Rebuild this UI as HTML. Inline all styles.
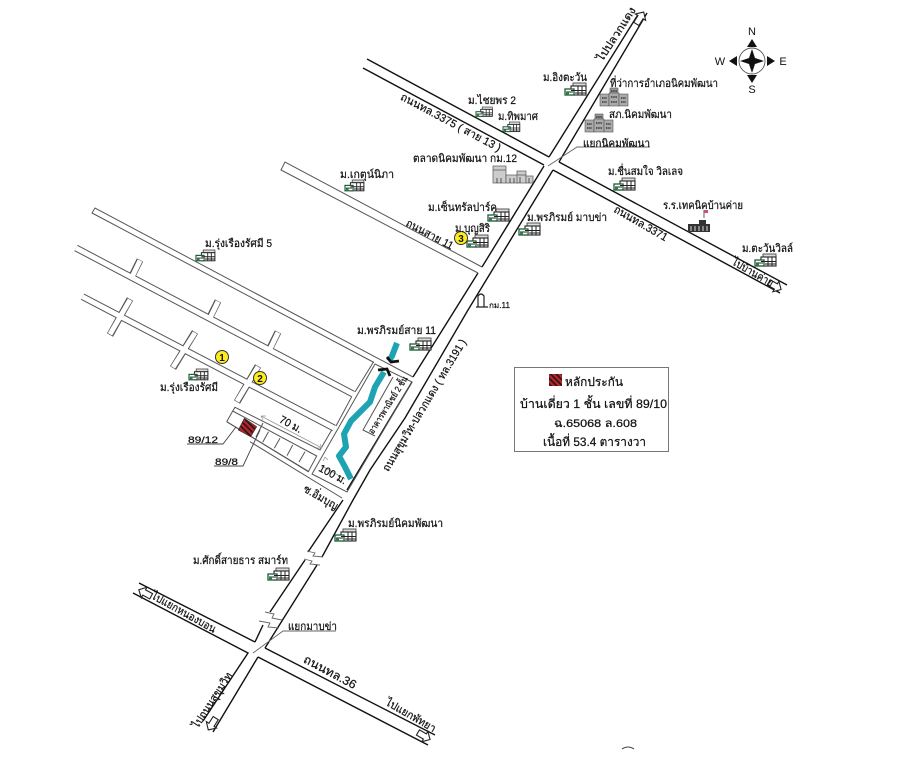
<!DOCTYPE html>
<html lang="th"><head><meta charset="utf-8"><title>แผนที่</title>
<style>
html,body{margin:0;padding:0;background:#fff}
svg{display:block}
text{font-family:"Liberation Sans","Noto Sans CJK SC",sans-serif;fill:#111;font-size:11px;stroke:#111;stroke-width:.22px}
</style></head><body>
<svg xmlns="http://www.w3.org/2000/svg" width="900" height="764" viewBox="0 0 900 764">
<defs>
<pattern id="h" width="4" height="4" patternUnits="userSpaceOnUse" patternTransform="rotate(-45)">
<rect width="4" height="4" fill="#b3262a"/><rect width="1.6" height="4" fill="#2a1414"/></pattern>
<g id="ic">
<rect x="8" y="0" width="13" height="3" fill="#ddd" stroke="#444" stroke-width=".9"/>
<rect x="6" y="3" width="15" height="9" fill="#fff" stroke="#222" stroke-width="1.1"/>
<rect x="0" y="6" width="9" height="6" fill="#fff" stroke="#1c5c35" stroke-width="1.3"/>
<path d="M1 9H8M6 7.500H21M10 10H21M13 3V12M17 3V12" stroke="#222" stroke-width="1" fill="none"/>
<rect x="1" y="9" width="3" height="3" fill="#2f7a4b"/>
</g>
<g id="of">
<rect x="10" y="0" width="8" height="8" fill="#999" stroke="#555" stroke-width=".6"/>
<rect x="0" y="6" width="9" height="12" fill="#aaa" stroke="#555" stroke-width=".6"/>
<rect x="9" y="5" width="10" height="13" fill="#aaa" stroke="#555" stroke-width=".6"/>
<rect x="19" y="6" width="9" height="12" fill="#aaa" stroke="#555" stroke-width=".6"/>
<path d="M2 10H7M2 14H7M11 3H17M11 9H17M11 14H17M21 10H26M21 14H26" stroke="#222" stroke-width="1.3" stroke-dasharray="1.5 .7"/>
</g>
<polygon id="ar" points="-7,-3 1,-3 1,-6 7,0 1,6 1,3 -7,3" fill="#fff" stroke="#222" stroke-width="1.1"/>
</defs>
<rect width="900" height="764" fill="#fff"/>

<!-- main thick roads -->
<g stroke="#111" stroke-width="1.4" fill="none">
<path d="M367 59L549 157M363 68L544 165"/>
<path d="M559 162L787 285M553 170L780 293"/>
<path d="M549 157L639 13M559 162L647 13"/>
<path d="M544 166L482 267M478 273L413 377"/>
<path d="M553 170L468 310L405 418L370 470L353 500L322 557M317 565L265 648"/>
<path d="M412 382L347 490M343 500L308 552M305 560L270 612M263 625L255 642"/>
<path d="M139 583L255 642M133 593L248 653L203 721"/>
<path d="M265 648L435 735M258 657L428 745M258 657L213 732"/>
</g>

<!-- soi 11 -->
<g stroke="#555" stroke-width="1" fill="none">
<path d="M478 273L281 170L285 162L482 267"/>
</g>

<!-- left network double roads -->
<g fill="none" stroke-linecap="butt">
<g stroke="#555" stroke-width="7">
<path d="M140 260L132 276M218 301L210 317M278 332L270 348M130 299L110 335M195 332L173 368M258 366L237 402"/>
<path d="M76 248L353 394M82.500 296.700L334 428"/>
</g>
<g stroke="#fff" stroke-width="5">
<path d="M140 260.500L132 277M218 301.500L210 318M278 332.500L270 349M130 299.700L110 334.300M195 332.700L173 367.300M258 366.700L237 401.300"/>
<path d="M76 248L353 394M82.500 296.700L334 428"/>
</g>
</g>
<g stroke="#555" stroke-width="1" fill="none">
<path d="M413 377L95 208L92 213L374 362.500"/>
<path d="M355 392L373.300 362.300M351.700 396.700L336 426"/>
<path d="M375 364L412 382L347 492L312 474L375 364Z"/>
<path d="M331.700 430L320 450L235 407.300L232.700 411L316.700 456L308.300 471.700L226.700 421.700M232.700 411L226.700 421.700"/>
<path d="M226.700 421.700L309 471.700M250 441.700L342 498"/>
<path d="M393 377L363 430L375 436"/>
<path d="M263 423L256 437M268.500 431.700L262.700 442.300M280 438.300L274.300 448.300M292.700 445L287 455.700M305 451.700L299 462"/>
</g>
<polygon points="244.300,418.300 256.700,426.700 250.700,436.700 238.300,430" fill="url(#h)" stroke="#333" stroke-width=".6"/>

<!-- dims -->
<g stroke="#999" stroke-width=".8" fill="none">
<path d="M261 416L322 448M261 416l5 0M261 416l2 4M322 448l-5 0M322 448l-2 -4"/>
<path d="M322 466L345 479M325 457l-2 4M325 457l3 3"/>
</g>
<g stroke="#444" stroke-width=".9" fill="none">
<path d="M187 444H223L236 427M214 466H243L260 430"/>
<path d="M548 166L577 147H650M253 653L283 631H336" stroke="#666"/>
</g>

<!-- river -->
<path d="M397 343L392 356L389 361M384 372L375 387L370 402L360 412L351 421L344 434L346 447L339 456L345 467L351 479" stroke="#1ea3b3" stroke-width="6" fill="none" stroke-linejoin="round"/>
<path d="M387 357L391 362L399 361M378 370L387 369L390 376" stroke="#111" stroke-width="2.800" fill="none"/>

<!-- breaks -->
<g>
<path d="M307 551L315 553L313 556L323 557M304 559L312 561L310 564L320 565M265 612L274 614L272 618L282 620M259 621L270 623L268 627L279 628" stroke="#666" stroke-width=".9" fill="none"/>
</g>

<!-- arrows -->
<use href="#ar" transform="translate(640 18) rotate(-58)"/>
<use href="#ar" transform="translate(775 286) rotate(30)"/>
<use href="#ar" transform="translate(145 593) rotate(208)"/>
<use href="#ar" transform="translate(212 724) rotate(122)"/>
<use href="#ar" transform="translate(424 736) rotate(30)"/>

<!-- icons -->
<use href="#ic" x="565" y="83"/><use href="#ic" transform="translate(476 107) scale(.78)"/>
<use href="#ic" transform="translate(503 122) scale(.8)"/><use href="#ic" transform="translate(345 180) scale(.9)"/>
<use href="#ic" x="488" y="209"/><use href="#ic" x="467" y="235"/><use href="#ic" x="519" y="223"/>
<use href="#ic" x="614" y="178"/><use href="#ic" x="755" y="254"/>
<use href="#ic" transform="translate(196 250) scale(.9)"/><use href="#ic" x="410" y="338"/>
<use href="#ic" transform="translate(189 369) scale(.9)"/><use href="#ic" x="335" y="529"/><use href="#ic" x="268" y="568"/>
<use href="#of" x="600" y="88"/><use href="#of" x="585" y="114"/>

<!-- market -->
<g fill="#ccc" stroke="#555" stroke-width=".7">
<rect x="493" y="166" width="13" height="17"/><rect x="506" y="175" width="12" height="8"/><rect x="517" y="171" width="9" height="12"/><rect x="526" y="176" width="7" height="7"/>
<path d="M493 170H506M517 175H526" fill="none"/><path d="M497 178v5M501 178v5M510 178v5M514 178v5M520 177v6M529 178v5" stroke="#222" fill="none"/>
</g>
<!-- school -->
<g>
<path d="M704 210V218" stroke="#333" stroke-width=".8"/><rect x="704" y="210" width="4" height="3" fill="#c9526f"/>
<rect x="699" y="220" width="7" height="4" fill="#333"/>
<rect x="688" y="224" width="22" height="8" fill="#333"/><path d="M691 226v5M695 226v5M699 226v5M703 226v5M707 226v5" stroke="#ddd" stroke-width="1"/>
</g>
<!-- km11 -->
<path d="M476 307H488M478 307V296Q481 292 484 296V307" stroke="#222" stroke-width="1.200" fill="#fff"/>

<!-- circles -->
<g stroke="#333" stroke-width="1" fill="#ffec1f">
<circle cx="222" cy="357" r="6.500"/><circle cx="260" cy="378" r="6.500"/><circle cx="461" cy="238" r="6.500"/>
</g>
<g text-anchor="middle" style="font-weight:bold">
<text x="222" y="361" style="font-size:10px;stroke:none">1</text><text x="260" y="382" style="font-size:10px;stroke:none">2</text><text x="461" y="242" style="font-size:10px;stroke:none">3</text>
</g>

<!-- compass -->
<g>
<circle cx="752" cy="61" r="13" fill="#fff" stroke="#555" stroke-width=".9"/>
<polygon points="752,49 755,58 764,61 755,64 752,73 749,64 740,61 749,58" fill="#111"/>
<polygon points="752,39 757,47 747,47" fill="#111"/><polygon points="752,83 757,75 747,75" fill="#111"/>
<polygon points="729,61 737,56 737,66" fill="#111"/><polygon points="775,61 767,56 767,66" fill="#111"/>
<g text-anchor="middle"><text x="752" y="35" style="stroke:none">N</text><text x="752" y="93" style="stroke:none">S</text><text x="720" y="65" style="stroke:none">W</text><text x="783" y="65" style="stroke:none">E</text></g>
</g>

<!-- horizontal labels -->
<g>
<text x="543" y="81" textLength="44" lengthAdjust="spacingAndGlyphs">ม.อิงตะวัน</text>
<text x="610" y="87" textLength="108" lengthAdjust="spacingAndGlyphs">ที่ว่าการอำเภอนิคมพัฒนา</text>
<text x="468" y="104" textLength="48" lengthAdjust="spacingAndGlyphs">ม.ไชยพร 2</text>
<text x="498" y="120" textLength="40" lengthAdjust="spacingAndGlyphs">ม.ทิพมาศ</text>
<text x="609" y="118" textLength="63" lengthAdjust="spacingAndGlyphs">สภ.นิคมพัฒนา</text>
<text x="583" y="147" textLength="67" lengthAdjust="spacingAndGlyphs">แยกนิคมพัฒนา</text>
<text x="413" y="162" textLength="104" lengthAdjust="spacingAndGlyphs">ตลาดนิคมพัฒนา กม.12</text>
<text x="340" y="178" textLength="54" lengthAdjust="spacingAndGlyphs">ม.เกตุน์นิภา</text>
<text x="608" y="175" textLength="75" lengthAdjust="spacingAndGlyphs">ม.ชื่นสมใจ วิลเลจ</text>
<text x="428" y="211" textLength="69" lengthAdjust="spacingAndGlyphs">ม.เซ็นทรัลปาร์ค</text>
<text x="663" y="209" textLength="80" lengthAdjust="spacingAndGlyphs">ร.ร.เทคนิคบ้านค่าย</text>
<text x="527" y="221" textLength="80" lengthAdjust="spacingAndGlyphs">ม.พรภิรมย์ มาบข่า</text>
<text x="455" y="232" textLength="35" lengthAdjust="spacingAndGlyphs">ม.บุญสิริ</text>
<text x="742" y="252" textLength="51" lengthAdjust="spacingAndGlyphs">ม.ตะวันวิลล์</text>
<text x="205" y="247" textLength="67" lengthAdjust="spacingAndGlyphs">ม.รุ่งเรืองรัศมี 5</text>
<text x="357" y="334" textLength="79" lengthAdjust="spacingAndGlyphs">ม.พรภิรมย์สาย 11</text>
<text x="489" y="308" textLength="21" lengthAdjust="spacingAndGlyphs" style="font-size:8px">กม.11</text>
<text x="160" y="391" textLength="58" lengthAdjust="spacingAndGlyphs">ม.รุ่งเรืองรัศมี</text>
<text x="188" y="443" textLength="30" lengthAdjust="spacingAndGlyphs" style="font-size:9px">89/12</text>
<text x="215" y="465" textLength="23" lengthAdjust="spacingAndGlyphs" style="font-size:9px">89/8</text>
<text x="348" y="527" textLength="95" lengthAdjust="spacingAndGlyphs">ม.พรภิรมย์นิคมพัฒนา</text>
<text x="193" y="564" textLength="95" lengthAdjust="spacingAndGlyphs">ม.ศักดิ์สายธาร สมาร์ท</text>
<text x="288" y="630" textLength="49" lengthAdjust="spacingAndGlyphs">แยกมาบข่า</text>
</g>

<!-- rotated labels -->
<g text-anchor="middle">
<text transform="translate(451 122) rotate(28)" dy="4" textLength="112" lengthAdjust="spacingAndGlyphs">ถนนทล.3375 ( สาย 13 )</text>
<text transform="translate(616 34) rotate(-57)" dy="4" textLength="62" lengthAdjust="spacingAndGlyphs">ไปปลวกแดง</text>
<text transform="translate(430 234) rotate(28)" dy="4" textLength="52" lengthAdjust="spacingAndGlyphs">ถนนสาย 11</text>
<text transform="translate(641 223) rotate(30)" dy="4" textLength="60" lengthAdjust="spacingAndGlyphs">ถนนทล.3371</text>
<text transform="translate(753 272) rotate(30)" dy="4" textLength="46" lengthAdjust="spacingAndGlyphs">ไปบ้านค่าย</text>
<text transform="translate(424 405) rotate(-59)" dy="4" textLength="152" lengthAdjust="spacingAndGlyphs">ถนนสุขุมวิท-ปลวกแดง ( ทล.3191 )</text>
<text transform="translate(388 405) rotate(-58)" dy="3" textLength="66" lengthAdjust="spacingAndGlyphs" style="font-size:9px">อาคารพาณิชย์ 2 ชั้น</text>
<text transform="translate(291 424) rotate(28)" dy="4" textLength="24" lengthAdjust="spacingAndGlyphs">70 ม.</text>
<text transform="translate(333 474) rotate(28)" dy="4" textLength="30" lengthAdjust="spacingAndGlyphs">100 ม.</text>
<text transform="translate(321 497) rotate(30)" dy="4" textLength="38" lengthAdjust="spacingAndGlyphs">ซ.อิ่มบุญ</text>
<text transform="translate(184 612) rotate(29)" dy="4" textLength="72" lengthAdjust="spacingAndGlyphs">ไปแยกหนองบอน</text>
<text transform="translate(330 672) rotate(28)" dy="4" textLength="58" lengthAdjust="spacingAndGlyphs" style="font-size:12px">ถนนทล.36</text>
<text transform="translate(411 715) rotate(30)" dy="4" textLength="56" lengthAdjust="spacingAndGlyphs">ไปแยกพัทยา</text>
<text transform="translate(212 700) rotate(-57)" dy="4" textLength="64" lengthAdjust="spacingAndGlyphs">ไปถนนสุขุมวิท</text>
</g>

<!-- info box -->
<rect x="514.500" y="367.500" width="154" height="84" fill="#fff" stroke="#777" stroke-width="1"/>
<rect x="549" y="374" width="13" height="12" fill="url(#h)"/>
<g style="font-weight:normal">
<text x="565" y="386" textLength="58" lengthAdjust="spacingAndGlyphs" style="font-size:12px">หลักประกัน</text>
<text x="520" y="408" textLength="147" lengthAdjust="spacingAndGlyphs" style="font-size:12px">บ้านเดี่ยว 1 ชั้น เลขที่ 89/10</text>
<text x="554" y="427" textLength="83" lengthAdjust="spacingAndGlyphs">ฉ.65068 ล.608</text>
<text x="543" y="446" textLength="103" lengthAdjust="spacingAndGlyphs" style="font-size:12px">เนื้อที่ 53.4 ตารางวา</text>
</g>
<path d="M622 749Q628 745 634 749" stroke="#444" fill="none" stroke-width="1"/>
</svg>
</body></html>
